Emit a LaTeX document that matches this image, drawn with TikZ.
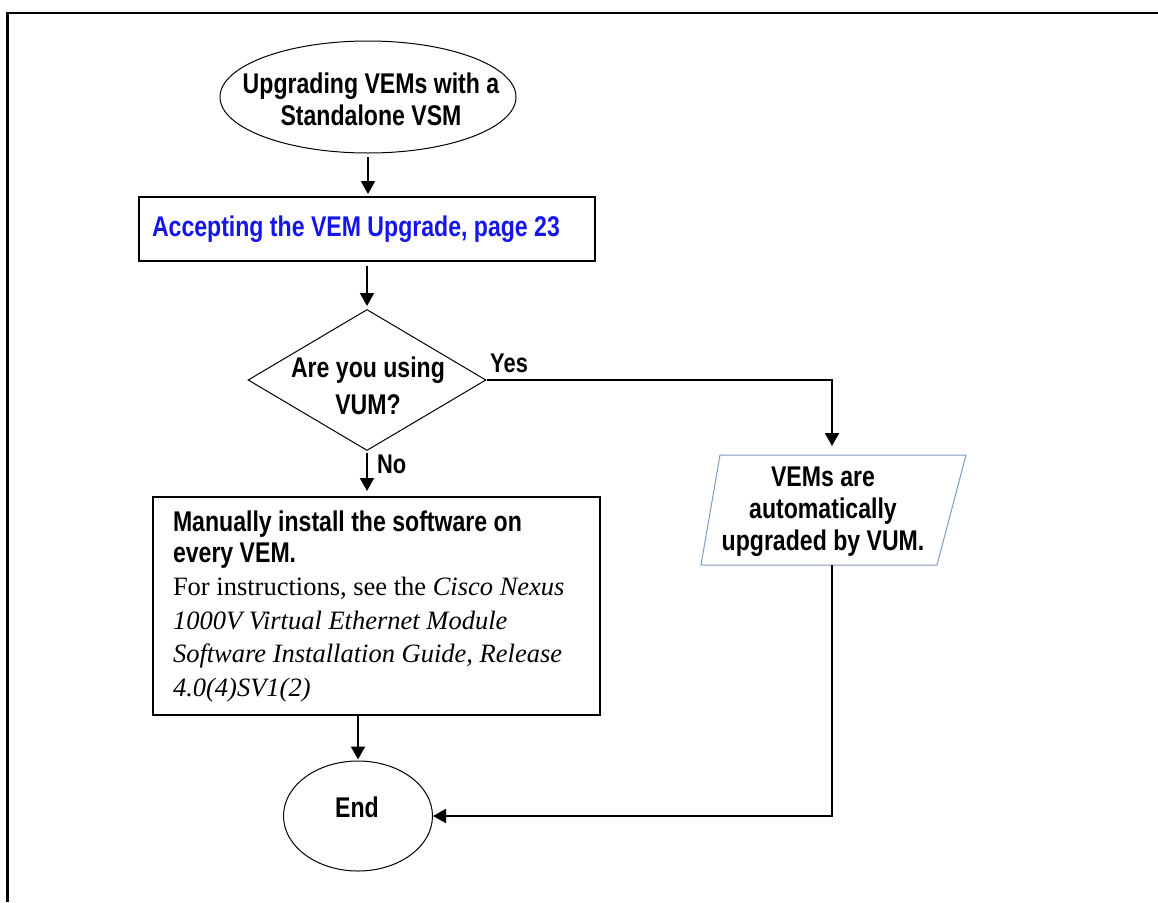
\documentclass[tikz,border=0pt]{standalone}
\usepackage{fontspec}
\setmainfont{Liberation Serif}
\newfontfamily\cond[FakeStretch=0.81]{Liberation Sans}
\usetikzlibrary{shapes.geometric,arrows.meta}
\definecolor{linkblue}{RGB}{20,20,235}
\definecolor{parablue}{RGB}{125,155,195}
\begin{document}
\begin{tikzpicture}[x=1pt,y=-1pt,
  bold/.style={font=\cond\bfseries\fontsize{28.5}{32}\selectfont},
  arr/.style={line width=2pt,-{Triangle[length=13pt,width=14pt]}},
  oval/.style={draw,ellipse,line width=1pt,inner sep=0pt},
  boxed/.style={draw,rectangle,line width=2pt,inner sep=0pt},
  lab/.style={font=\cond\bfseries\fontsize{27}{30}\selectfont,inner sep=0pt,anchor=base west}]
\useasboundingbox (0,0) rectangle (1158,902);
% frame
\draw[line width=2.5pt] (7.5,902) -- (7.5,13) -- (1158,13);
% start
\node[oval,minimum width=296pt,minimum height=112pt] (start) at (368,97) {};
\node[bold,align=center,inner sep=0pt] (starttext) at (371,99)
  {Upgrading VEMs with a\\Standalone VSM};
% accept box
\node[boxed,minimum width=456pt,minimum height=64pt,text width=440pt,inner xsep=8pt,align=flush left,
  font=\cond\bfseries\fontsize{28.5}{32}\selectfont,text=linkblue] (accept) at (367,229)
  {\hspace*{5pt}Accepting the VEM Upgrade, page 23};
% decision
\node[draw,diamond,line width=1pt,inner sep=0pt,minimum width=238pt,minimum height=141pt] (dec) at (367,380) {};
\node[font=\cond\bfseries\fontsize{28.5}{37}\selectfont,align=center,inner sep=0pt] (dectext) at (368,386)
  {Are you using\\VUM?};
% manual box
\node[boxed,minimum width=447pt,minimum height=218pt,text width=427pt,inner xsep=10pt,align=flush left] (manual) at (376.5,606)
  {{\cond\bfseries\fontsize{28.5}{31}\selectfont \hspace*{10pt}Manually install the software on\\\hspace*{10pt}every VEM.\par}
   {\fontsize{26.5}{33.5}\selectfont \hspace*{10pt}For instructions, see the \textit{Cisco Nexus}\\\hspace*{10pt}\textit{1000V Virtual Ethernet Module}\\\hspace*{10pt}\textit{Software Installation Guide, Release}\\\hspace*{10pt}\textit{4.0(4)SV1(2)}\par}};
% parallelogram
\coordinate (p1) at (720,455);
\coordinate (p2) at (966,455);
\coordinate (p3) at (937,565);
\coordinate (p4) at (701,565);
\coordinate (ptop) at (832,455);
\coordinate (pbot) at (832,565);
\draw[parablue,line width=1pt] (p1) -- (p2) -- (p3) -- (p4) -- cycle;
\node[bold,align=center,inner sep=0pt] (auto) at (823,512)
  {VEMs are\\automatically\\upgraded by VUM.};
% end
\node[oval,minimum width=149pt,minimum height=110pt] (end) at (358,816) {};
\node[bold,inner sep=0pt] (endtext) at (357,807) {End};
% labels
\node[lab] (yes) at (490,372) {Yes};
\node[lab] (no) at (377,473) {No};
% connectors
\draw[arr,shorten <=3pt,shorten >=2pt] (start.south) -- (start.south |- accept.north);
\draw[arr,shorten <=4pt,shorten >=3pt] (accept.south) -- (dec.north);
\draw[arr,shorten >=9pt] (dec.east) -| (ptop);
\draw[arr,shorten <=2pt,shorten >=5pt] (dec.south) -- (dec.south |- manual.north);
\draw[arr,shorten >=1pt] (manual.south -| end.north) -- (end.north);
\draw[arr] (pbot) |- (end.east);
\end{tikzpicture}
\end{document}
